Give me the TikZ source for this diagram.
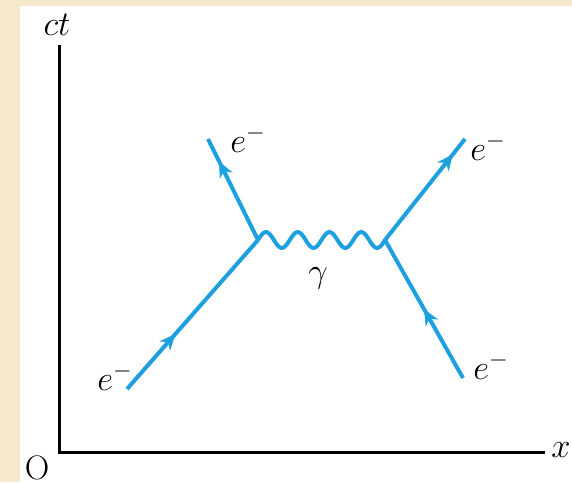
\documentclass[tikz,border=0pt]{standalone}
\usepackage{amsmath,amssymb}
\usepackage{xcolor}
\usepackage{tikz}
\usetikzlibrary{arrows.meta,decorations.markings}
\definecolor{Fermion}{RGB}{29,160,224}
\definecolor{Parchment}{RGB}{247,232,204}

\begin{document}
\begin{tikzpicture}[x=0.5pt,y=-0.5pt,
  axis/.style={draw=black,line width=1.5pt},
  fermion/.style={draw=Fermion,line width=2pt,postaction={decorate},
    decoration={markings,mark=at position #1 with {\arrow{Stealth[length=8pt,width=7pt,inset=2.5pt]}}}},
  photon/.style={draw=Fermion,line width=2pt},
  lbl/.style={font=\fontsize{18}{21}\selectfont,inner sep=0pt}]
  \useasboundingbox (0,0) rectangle (572,482);
  \fill[Parchment] (0,0) rectangle (572,482);
  \fill[white] (20,6) rectangle (572,482);
  % axes
  \coordinate (origin) at (59,452);
  \coordinate (ctend) at (59,45);
  \coordinate (xend) at (545,452);
  \draw[axis] (ctend) -- (origin) -- (xend);
  \node[lbl] (ctlbl) at (57,25) {$ct$};
  \node[lbl] (xlbl) at (561,450) {$x$};
  \node[lbl,font=\fontsize{17}{20}\selectfont,anchor=north] (olbl) at (37,455) {O};
  % vertices and ends
  \coordinate (inL) at (127,389);
  \coordinate (vL) at (258,240);
  \coordinate (outL) at (208,139);
  \coordinate (vR) at (385,240);
  \coordinate (outR) at (465,139);
  \coordinate (inR) at (463,378);
  % electrons
  \draw[fermion=0.37] (inL) -- (vL);
  \draw[fermion=0.78] (vL) -- (outL);
  \draw[fermion=0.85] (vR) -- (outR);
  \draw[fermion=0.5] (inR) -- (vR);
  % photon, four full waves
  \draw[photon] (vL) \foreach \k in {1,...,4}{
      sin ++(7.94,-8) cos ++(7.94,8) sin ++(7.94,8) cos ++(7.94,-8)} -- (vR);
  \node[lbl,anchor=base] (gamma) at (318,282) {$\gamma$};
  % labels
  \node[lbl,anchor=base west] (einL) at (97,390) {$e^-$};
  \node[lbl,anchor=base west] (eoutL) at (230,152) {$e^-$};
  \node[lbl,anchor=base west] (eoutR) at (470,160) {$e^-$};
  \node[lbl,anchor=base west] (einR) at (473,379) {$e^-$};
\end{tikzpicture}
\end{document}
